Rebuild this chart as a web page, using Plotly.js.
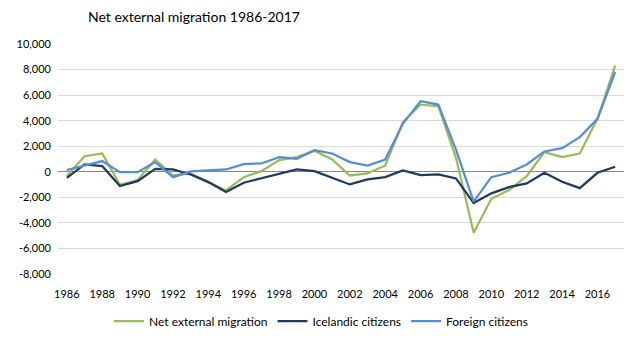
<!DOCTYPE html>
<html>
<head>
<meta charset="utf-8">
<script src="https://cdn.plot.ly/plotly-3.0.1.min.js"></script>
<style>html,body{margin:0;padding:0;background:#fff}#chart{width:643px;height:341px}</style>
</head>
<body>
<div id="chart"></div>
<script>
const years = [1986,1987,1988,1989,1990,1991,1992,1993,1994,1995,1996,1997,1998,1999,2000,2001,2002,2003,2004,2005,2006,2007,2008,2009,2010,2011,2012,2013,2014,2015,2016,2017];
const netMigration = [-340,1220,1430,-1020,-650,960,-290,-130,-810,-1460,-420,50,910,1150,1640,960,-290,-130,490,3880,5260,5130,1090,-4770,-2110,-1430,-340,1540,1150,1430,4140,8310];
const icelandic = [-480,580,450,-1120,-730,230,180,-210,-810,-1590,-860,-520,-160,180,50,-470,-990,-600,-420,100,-260,-210,-520,-2450,-1690,-1200,-910,-80,-780,-1280,-80,390];
const foreign = [140,520,840,-30,-30,760,-420,30,80,180,600,650,1150,1020,1690,1430,760,490,960,3780,5520,5260,1740,-2340,-420,-80,570,1590,1850,2710,4140,7810];
const yTickVals = [-8000,-6000,-4000,-2000,0,2000,4000,6000,8000,10000];
const yTickText = ['-8,000','-6,000','-4,000','-2,000','0','2,000','4,000','6,000','8,000','10,000'];
const seriesNames = ['Net external migration','Icelandic citizens','Foreign citizens'];
const font = 'Lato, "Open Sans", "Liberation Sans", sans-serif';

const traces = [
  {x: years, y: netMigration, name: seriesNames[0], mode: 'lines', line: {color: '#9BBB59', width: 2.25}},
  {x: years, y: icelandic, name: seriesNames[1], mode: 'lines', line: {color: '#1F3A5F', width: 2.25}},
  {x: years, y: foreign, name: seriesNames[2], mode: 'lines', line: {color: '#558ED5', width: 2.25}}
];
const layout = {
  width: 643, height: 341,
  margin: {l: 58, r: 19, t: 44, b: 67, autoexpand: false},
  paper_bgcolor: '#fff', plot_bgcolor: '#fff',
  font: {family: font, size: 11, color: '#000'},
  title: {text: 'Net external migration 1986-2017', x: 88/643, xanchor: 'left', xref: 'container', y: 1 - 17/341, yref: 'container', yanchor: 'middle', font: {family: font, size: 14, color: '#000'}},
  xaxis: {range: [1985.5, 2017.5], tickmode: 'linear', tick0: 1986, dtick: 2, showgrid: false, zeroline: false, showline: false, ticks: '', tickfont: {size: 11, color: '#000'}, ticklabelstandoff: 12, automargin: false},
  yaxis: {range: [-8000, 10000], tickmode: 'array', tickvals: yTickVals, ticktext: yTickText, gridcolor: '#D9D9D9', gridwidth: 1, zeroline: true, zerolinecolor: '#868686', zerolinewidth: 1, showline: false, ticks: '', tickfont: {size: 11, color: '#000'}, ticklabelstandoff: 6, automargin: false},
  legend: {orientation: 'h', x: 0.5, xanchor: 'center', xref: 'container', y: 1 - 321/341, yref: 'container', yanchor: 'middle', font: {size: 12}, itemwidth: 30, traceorder: 'normal'},
  showlegend: true
};
Plotly.newPlot('chart', traces, layout, {displayModeBar: false, staticPlot: true});
</script>
</body>
</html>
